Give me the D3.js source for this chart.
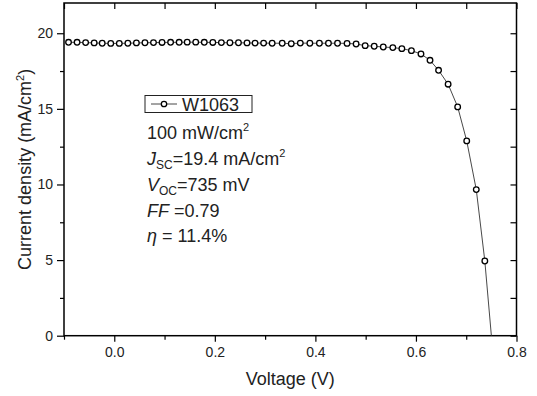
<!DOCTYPE html>
<html><head><meta charset="utf-8">
<script src="https://cdn.jsdelivr.net/npm/d3@7"></script>
<style>
body{margin:0;background:#fff;}
svg{display:block;font-family:Arial,"Liberation Sans",sans-serif;}
</style>
</head><body>
<svg id="c" width="537" height="396"></svg>
<script>
// ---- data ----
const voltage = [-0.091,-0.074,-0.057,-0.040,-0.024,-0.007,0.010,0.027,0.044,0.061,
  0.078,0.095,0.112,0.129,0.145,0.162,0.179,0.196,0.213,0.230,0.247,0.264,0.280,0.297,0.314,
  0.334,0.352,0.370,0.389,0.408,0.426,0.444,0.463,0.481,0.499,0.517,0.535,0.554,0.572,
  0.591,0.610,0.628,0.645,0.664,0.683,0.701,0.720,0.737];
const currentDensity = [19.40,19.40,19.38,19.36,19.34,19.33,19.33,19.34,19.36,19.37,
  19.38,19.39,19.40,19.40,19.41,19.41,19.40,19.39,19.38,19.37,19.37,19.36,19.35,19.35,19.34,
  19.34,19.31,19.35,19.34,19.34,19.34,19.34,19.33,19.29,19.18,19.14,19.09,19.05,18.98,
  18.85,18.63,18.21,17.55,16.63,15.13,12.88,9.66,4.94];
const lineEndVoltage = [0.750];
const lineEndCurrent = [0];
const xMajorTicks = [0.0,0.2,0.4,0.6,0.8];
const xMinorTicks = [-0.1,0.1,0.3,0.5,0.7];
const yMajorTicks = [0,5,10,15,20];
const yMinorTicks = [2.5,7.5,12.5,17.5];
const xDomain = [-0.1,0.8];
const yDomain = [0,22];
const legendLabel = "W1063";

// ---- layout ----
const svg = d3.select("#c");
const L = 64, R = 516.5, T = 3, B = 335.7;
const x = d3.scaleLinear().domain(xDomain).range([L,R]);
const y = d3.scaleLinear().domain(yDomain).range([B,T]);
const fmtX = d3.format(".1f");

function styleAxis(g){ g.select(".domain").remove(); g.selectAll("line").attr("stroke","#000").attr("stroke-width",1.2); }

// bottom major
svg.append("g").attr("transform",`translate(0,${B})`)
  .call(d3.axisBottom(x).tickValues(xMajorTicks).tickFormat(fmtX).tickSize(6).tickPadding(5))
  .call(styleAxis)
  .call(g=>g.selectAll("text").attr("font-size",14).attr("fill","#222").attr("font-family","Arial,'Liberation Sans',sans-serif"));
// bottom minor
svg.append("g").attr("transform",`translate(0,${B})`)
  .call(d3.axisBottom(x).tickValues(xMinorTicks).tickFormat("").tickSize(4))
  .call(styleAxis);
// left major
svg.append("g").attr("transform",`translate(${L},0)`)
  .call(d3.axisLeft(y).tickValues(yMajorTicks).tickFormat(d3.format("d")).tickSize(7).tickPadding(4))
  .call(styleAxis)
  .call(g=>g.selectAll("text").attr("font-size",14).attr("fill","#222").attr("font-family","Arial,'Liberation Sans',sans-serif"));
// left minor
svg.append("g").attr("transform",`translate(${L},0)`)
  .call(d3.axisLeft(y).tickValues(yMinorTicks).tickFormat("").tickSize(4))
  .call(styleAxis);
// top ticks (inward)
svg.append("g").attr("transform",`translate(0,${T})`)
  .call(d3.axisTop(x).tickValues(xMajorTicks.concat(xMinorTicks)).tickFormat("").tickSize(-6))
  .call(styleAxis);
// right ticks (inward)
svg.append("g").attr("transform",`translate(${R},0)`)
  .call(d3.axisRight(y).tickValues(yMajorTicks.concat(yMinorTicks)).tickFormat("").tickSize(-6))
  .call(styleAxis);

// frame
svg.append("rect").attr("x",L).attr("y",T).attr("width",R-L).attr("height",B-T)
  .attr("fill","none").attr("stroke","#000").attr("stroke-width",1.5);

// data
const pts = voltage.map((v,i)=>({v, j: currentDensity[i]}));
const linePts = pts.concat(lineEndVoltage.map((v,i)=>({v, j: lineEndCurrent[i]})));
const line = d3.line().x(d=>x(d.v)).y(d=>y(d.j));
svg.append("path").datum(linePts).attr("d",line)
  .attr("fill","none").attr("stroke","#333").attr("stroke-width",0.9);
svg.append("g").selectAll("circle").data(pts).join("circle")
  .attr("cx",d=>x(d.v)).attr("cy",d=>y(d.j)).attr("r",2.8)
  .attr("fill","#fff").attr("stroke","#000").attr("stroke-width",1.3);

// axis titles
svg.append("text").attr("x",(L+R)/2).attr("y",385).attr("text-anchor","middle")
  .attr("font-size",18).attr("fill","#222").text("Voltage (V)");
const yt = svg.append("text").attr("transform",`translate(31,${(T+B)/2}) rotate(-90)`)
  .attr("text-anchor","middle").attr("font-size",18).attr("fill","#222");
yt.append("tspan").text("Current density (mA/cm");
yt.append("tspan").attr("font-size",11).attr("dy",-7).text("2");
yt.append("tspan").attr("dy",7).text(")");

// legend
const lg = svg.append("g");
lg.append("rect").attr("x",145).attr("y",95.5).attr("width",107).attr("height",17)
  .attr("fill","#fff").attr("stroke","#222").attr("stroke-width",1);
lg.append("line").attr("x1",151).attr("x2",177).attr("y1",104).attr("y2",104)
  .attr("stroke","#333").attr("stroke-width",0.9);
lg.append("circle").attr("cx",164).attr("cy",104).attr("r",2.7)
  .attr("fill","#fff").attr("stroke","#000").attr("stroke-width",1.3);
lg.append("text").attr("x",182).attr("y",110.5).attr("font-size",18).attr("fill","#222").text(legendLabel);

// annotation
const tx = 147;
function addLine(yb, parts){
  const t = svg.append("text").attr("x",tx).attr("y",yb).attr("font-size",18).attr("fill","#222");
  parts.forEach(p=>{
    const s = t.append("tspan").text(p.t);
    if(p.i) s.attr("font-style","italic");
    if(p.sub){ s.attr("font-size",12).attr("dy",4); }
    if(p.sup){ s.attr("font-size",11).attr("dy",-8); }
    if(p.back) s.attr("dy",p.back);
  });
}
addLine(139,[{t:"100 mW/cm"},{t:"2",sup:true}]);
addLine(164.5,[{t:"J",i:true},{t:"SC",sub:true},{t:"=19.4 mA/cm",back:-4},{t:"2",sup:true}]);
addLine(190.5,[{t:"V",i:true},{t:"OC",sub:true},{t:"=735 mV",back:-4}]);
addLine(216.5,[{t:"FF",i:true},{t:" =0.79"}]);
addLine(242,[{t:"η",i:true},{t:" = 11.4%"}]);
</script>
</body></html>
